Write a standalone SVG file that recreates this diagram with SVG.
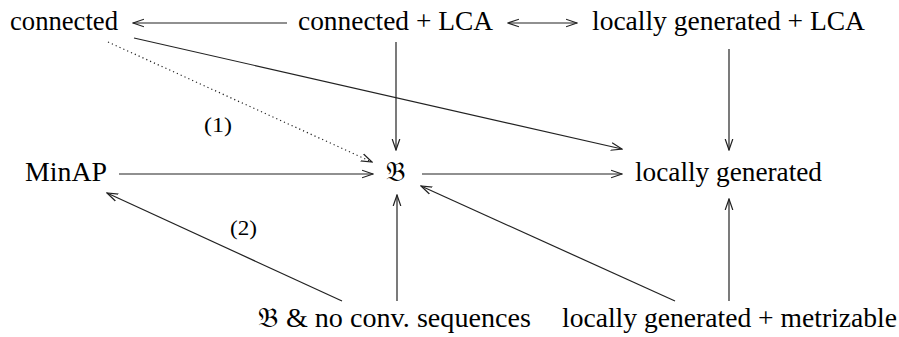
<svg xmlns="http://www.w3.org/2000/svg" width="899" height="337" viewBox="0 0 899 337">
  <defs>
    <marker id="head" viewBox="0 0 12 10" refX="11" refY="5" markerWidth="12" markerHeight="10" markerUnits="userSpaceOnUse" orient="auto-start-reverse">
      <path d="M0,1.2 L11,5 L0,8.8" fill="none" stroke="#222" stroke-width="1.2"/>
    </marker>
  </defs>
  <style>
    .edge { fill: none; stroke: #222; stroke-width: 1.2; }
    .dot { stroke-dasharray: 1.2 3; }
    .lbl { font-family: Liberation Serif, serif; font-size: 27px; fill: #000; }
    .num { font-family: Liberation Serif, serif; font-size: 21px; fill: #000; }
  </style>
  <rect width="899" height="337" fill="#fff"/>

  <g id="connectors">
    <line class="edge" x1="287" y1="23" x2="133" y2="23" marker-end="url(#head)"/>
    <line class="edge" x1="508" y1="23" x2="577" y2="23" marker-start="url(#head)" marker-end="url(#head)"/>
    <line class="edge" x1="396" y1="42" x2="396" y2="150" marker-end="url(#head)"/>
    <line class="edge" x1="729" y1="49" x2="729" y2="150" marker-end="url(#head)"/>
    <line class="edge" x1="134" y1="38" x2="622" y2="149" marker-end="url(#head)"/>
    <line class="edge dot" x1="108" y1="42" x2="372" y2="162" marker-end="url(#head)"/>
    <line class="edge" x1="119" y1="174" x2="373" y2="174" marker-end="url(#head)"/>
    <line class="edge" x1="422" y1="174" x2="622" y2="174" marker-end="url(#head)"/>
    <line class="edge" x1="675" y1="301" x2="421" y2="186" marker-end="url(#head)"/>
    <line class="edge" x1="342" y1="301" x2="107" y2="193" marker-end="url(#head)"/>
    <line class="edge" x1="397" y1="301" x2="397" y2="195" marker-end="url(#head)"/>
    <line class="edge" x1="729" y1="301" x2="729" y2="199" marker-end="url(#head)"/>
    <text class="num" x="204" y="132" textLength="28" lengthAdjust="spacingAndGlyphs">(1)</text>
    <text class="num" x="230" y="235" textLength="27" lengthAdjust="spacingAndGlyphs">(2)</text>
  </g>

  <g id="connected"><text class="lbl" x="10" y="30" textLength="108" lengthAdjust="spacingAndGlyphs">connected</text></g>
  <g id="connected-lca"><text class="lbl" x="298" y="30" textLength="195" lengthAdjust="spacingAndGlyphs">connected + LCA</text></g>
  <g id="locgen-lca"><text class="lbl" x="592" y="30" textLength="273" lengthAdjust="spacingAndGlyphs">locally generated + LCA</text></g>
  <g id="minap"><text class="lbl" x="25" y="181" textLength="82" lengthAdjust="spacingAndGlyphs">MinAP</text></g>
  <g id="frakB"><text class="lbl" x="386" y="181">𝔅</text></g>
  <g id="locgen"><text class="lbl" x="635" y="181" textLength="187" lengthAdjust="spacingAndGlyphs">locally generated</text></g>
  <g id="frakB-noconv"><text class="lbl" x="258" y="327" textLength="273" lengthAdjust="spacingAndGlyphs">𝔅 &amp; no conv. sequences</text></g>
  <g id="locgen-metr"><text class="lbl" x="562" y="327" textLength="335" lengthAdjust="spacingAndGlyphs">locally generated + metrizable</text></g>
</svg>
